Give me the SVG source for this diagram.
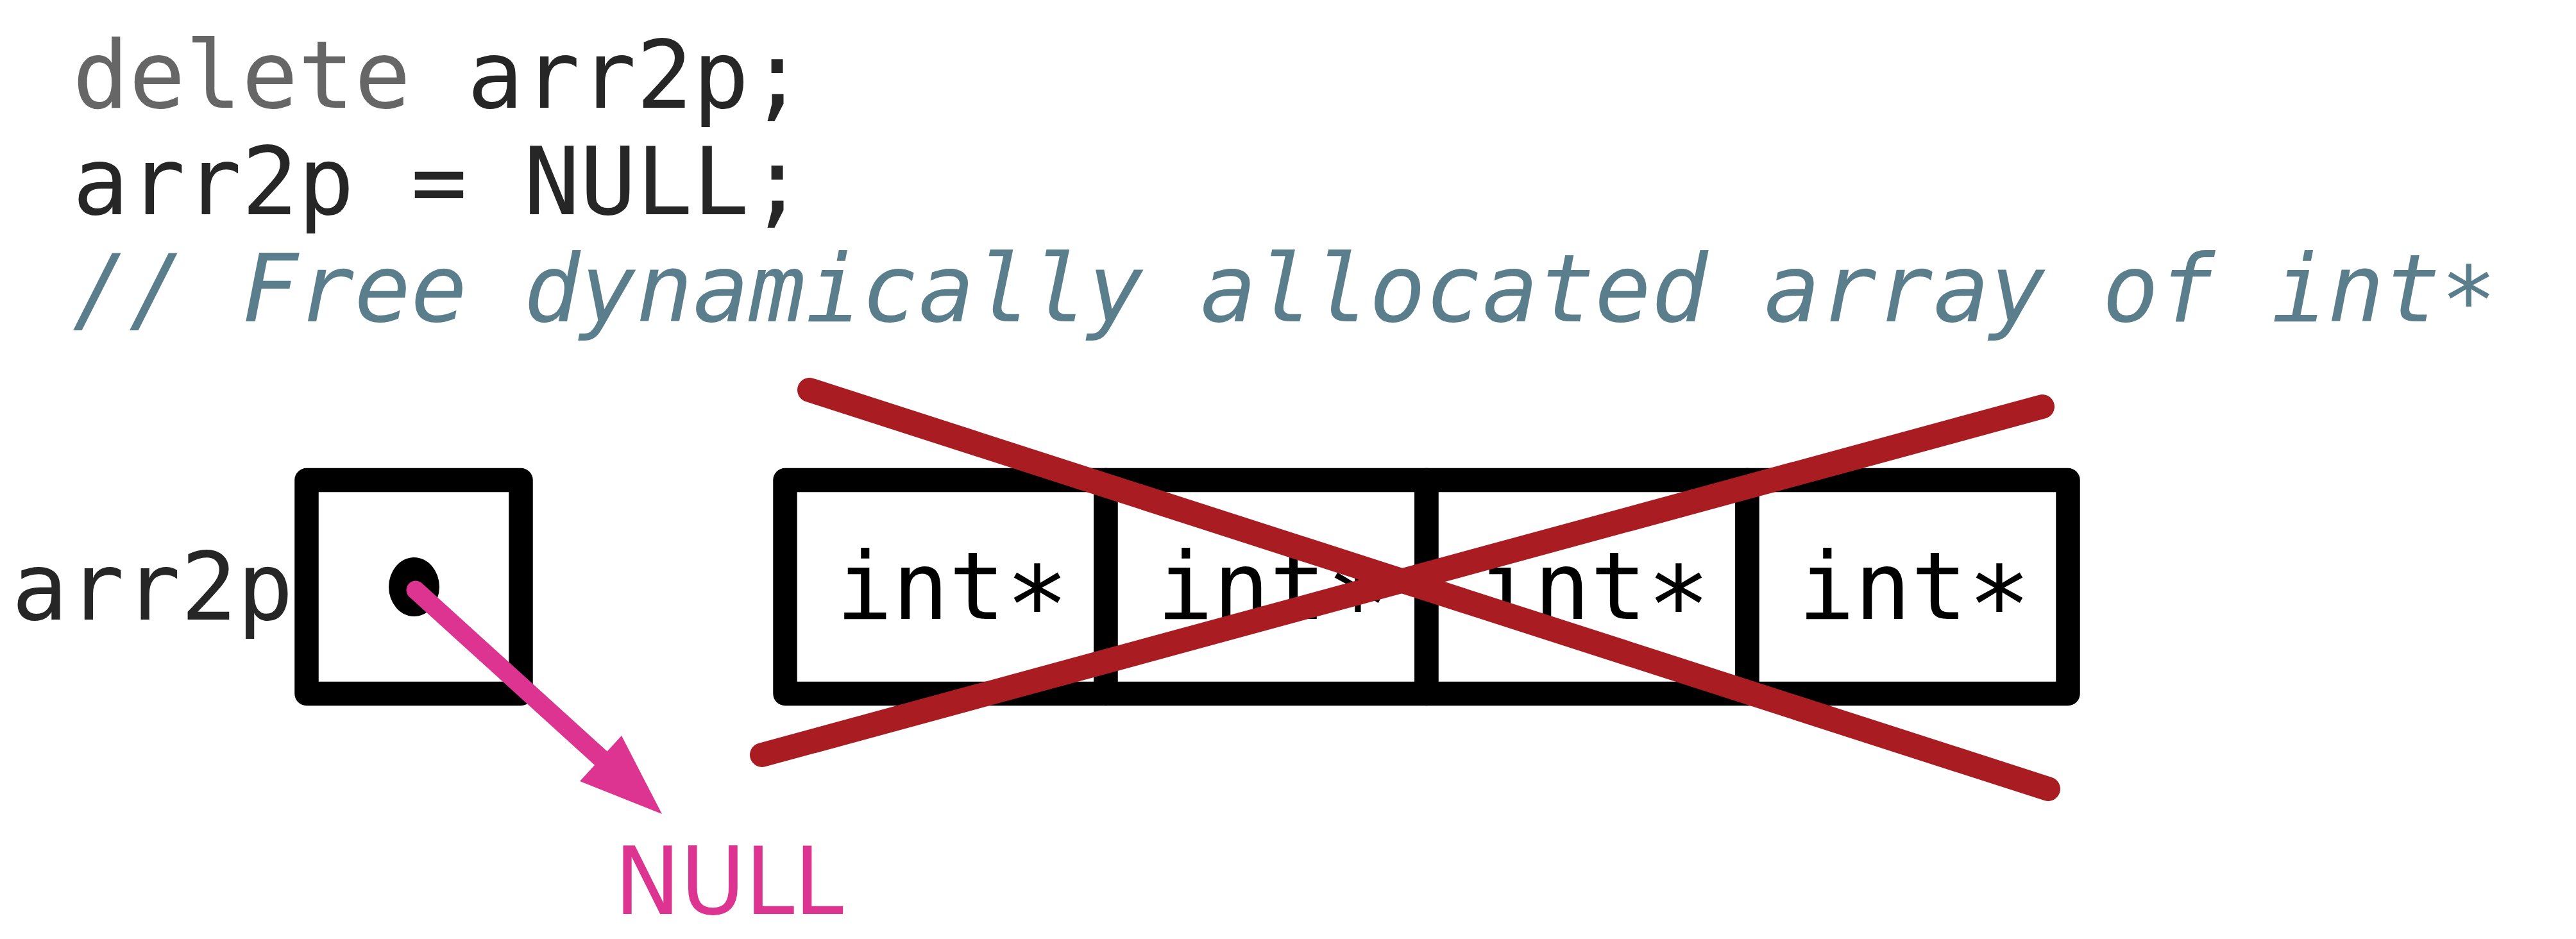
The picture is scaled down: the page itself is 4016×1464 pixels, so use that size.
<svg xmlns="http://www.w3.org/2000/svg" width="4016" height="1464" viewBox="0 0 4016 1464">
<style>
.code{font-family:"DejaVu Sans Mono","Liberation Mono",monospace;font-size:146px}
.kw{fill:#666666}
.id{fill:#262626}
.cm{fill:#5B7E8C;font-style:italic}
.cell{fill:#FFFFFF;stroke:#000000;stroke-width:37.5;stroke-linejoin:round}
.celltext{font-family:"DejaVu Sans Mono","Liberation Mono",monospace;font-size:146px;fill:#000000;text-anchor:middle}
.star{font-size:165px}
.cross{stroke:#A91D22;stroke-width:38;stroke-linecap:round;fill:none}
.ptr{stroke:#DC3490;stroke-width:29;stroke-linecap:round;fill:none}
.null{font-family:"DejaVu Sans","Liberation Sans",sans-serif;font-size:146px;fill:#DC3490}
</style>
<rect width="4016" height="1464" fill="#FFFFFF"/>
<g id="code">
<text class="code" x="113" y="168" xml:space="preserve"><tspan class="kw">delete</tspan><tspan class="id"> arr2p;</tspan></text>
<text class="code id" x="113" y="334">arr2p = NULL;</text>
<text class="code cm" x="113" y="501">// Free dynamically allocated array of int<tspan dy="19">*</tspan></text>
</g>
<g id="arr2p">
<text class="code id" x="18" y="966">arr2p</text>
<rect class="cell" x="478" y="748.5" width="334" height="333"/>
<ellipse cx="645.5" cy="915" rx="39.5" ry="46" fill="#000000"/>
</g>
<g id="array">
<rect class="cell" x="1224" y="748.5" width="500" height="333"/>
<rect class="cell" x="1724" y="748.5" width="500" height="333"/>
<rect class="cell" x="2224" y="748.5" width="500" height="333"/>
<rect class="cell" x="2724" y="748.5" width="500" height="333"/>
<text class="celltext" x="1485" y="965">int<tspan class="star" dy="37">*</tspan></text>
<text class="celltext" x="1985" y="965">int<tspan class="star" dy="37">*</tspan></text>
<text class="celltext" x="2485" y="965">int<tspan class="star" dy="37">*</tspan></text>
<text class="celltext" x="2985" y="965">int<tspan class="star" dy="37">*</tspan></text>
</g>
<g id="null">
<text class="null" x="958" y="1425" textLength="357" lengthAdjust="spacingAndGlyphs">NULL</text>
</g>
<g id="connectors">
<line class="cross" x1="1262" y1="608" x2="3193" y2="1230"/>
<line class="cross" x1="1188" y1="1177" x2="3184" y2="634"/>
<line class="ptr" x1="648" y1="920" x2="940" y2="1185"/>
<polygon points="1032,1269 904,1218 969,1147" fill="#DC3490"/>
</g>
</svg>
